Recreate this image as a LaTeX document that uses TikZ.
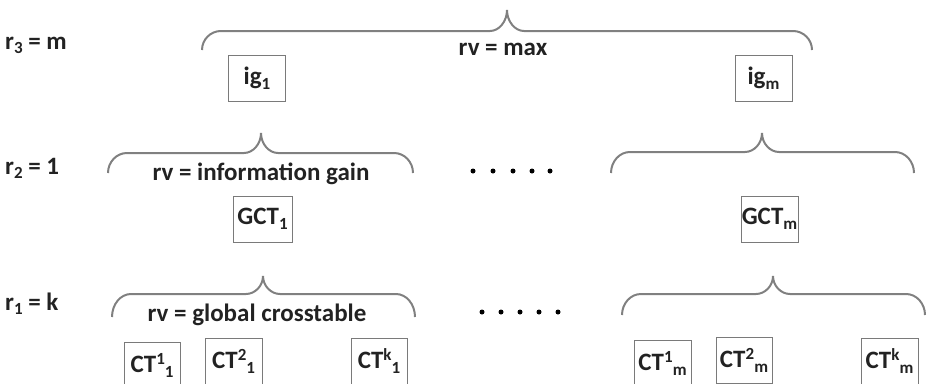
\documentclass[tikz,border=0pt]{standalone}
\usepackage{fontspec}
\setmainfont{Carlito}
\definecolor{txtc}{HTML}{222222}
\definecolor{brcc}{HTML}{808080}
\definecolor{boxc}{HTML}{7A7A7A}
\newcommand\mysub[1]{\raisebox{-4.5pt}{\fontsize{17}{17}\selectfont #1}}
\newcommand\mysup[1]{\raisebox{8.5pt}{\fontsize{17}{17}\selectfont #1}}
\newcommand\mybrace[6]{% x0 x1 xt ytop ytip yend
  \draw[brc] (#1,#6) .. controls (#1,{#6-0.55*(#6-#4)}) and ({#1+8.5},#4) .. ({#1+19},#4)
    -- ({#3-17},#4) .. controls ({#3-8},#4) and (#3,{#4-0.45*(#4-#5)}) .. (#3,#5)
    .. controls (#3,{#4-0.45*(#4-#5)}) and ({#3+8},#4) .. ({#3+17},#4)
    -- ({#2-19},#4) .. controls ({#2-8.5},#4) and (#2,{#6-0.55*(#6-#4)}) .. (#2,#6);}
\begin{document}
\begin{tikzpicture}[x=1pt,y=-1pt,
  txt/.style={font=\bfseries\fontsize{25}{28}\selectfont, text=txtc, inner sep=0pt},
  boxnode/.style={draw=boxc, line width=1pt, minimum width=57pt, minimum height=46pt,
    inner sep=0pt, font=\bfseries\fontsize{25}{28}\selectfont, text=txtc},
  brc/.style={draw=brcc, line width=2pt},
  dotn/.style={circle, fill=black, inner sep=0pt, minimum size=5pt}]
\useasboundingbox (0,0) rectangle (929,383);
% row labels
\node[txt, anchor=base west] (r3) at (5,49) {r\mysub{3} = m};
\node[txt, anchor=base west] (r2) at (5,174) {r\mysub{2} = 1};
\node[txt, anchor=base west] (r1) at (5,310) {r\mysub{1} = k};
% braces
\mybrace{202}{812}{507}{31}{10}{50}
\mybrace{108}{413}{261}{153}{133}{173}
\mybrace{611}{914}{762}{152}{133}{173}
\mybrace{112}{415}{263}{294}{276}{317}
\mybrace{622}{925}{773}{294}{276}{315}
% brace labels
\node[txt, anchor=base] (l3) at (503,55) {rv = max};
\node[txt, anchor=base] (l2) at (261,180) {rv = information gain};
\node[txt, anchor=base] (l1) at (257,321) {rv = global crosstable};
% boxes
\node[boxnode] (ig1) at (257,78) {ig\mysub{1}};
\node[boxnode] (igm) at (763.5,78) {ig\mysub{m}};
\node[boxnode, minimum width=59pt] (gct1) at (262.5,219) {GCT\mysub{1}};
\node[boxnode] (gctm) at (769.5,219) {GCT\mysub{m}};
\node[boxnode, minimum width=56pt] (ct11) at (152,365) {CT\mysup{1}\mysub{1}};
\node[boxnode] (ct21) at (233.5,361) {CT\mysup{2}\mysub{1}};
\node[boxnode, minimum width=56pt] (ctk1) at (379,361) {CT\mysup{k}\mysub{1}};
\node[boxnode] (ct1m) at (662.5,363) {CT\mysup{1}\mysub{m}};
\node[boxnode, minimum width=56pt] (ct2m) at (744,360) {CT\mysup{2}\mysub{m}};
\node[boxnode] (ctkm) at (889.5,361) {CT\mysup{k}\mysub{m}};
% dots
\foreach \x [count=\i] in {473,493,513,532,550} \node[dotn] (da\i) at (\x,171) {};
\foreach \x [count=\i] in {482,501,520,539,558} \node[dotn] (db\i) at (\x,312) {};
\end{tikzpicture}
\end{document}
